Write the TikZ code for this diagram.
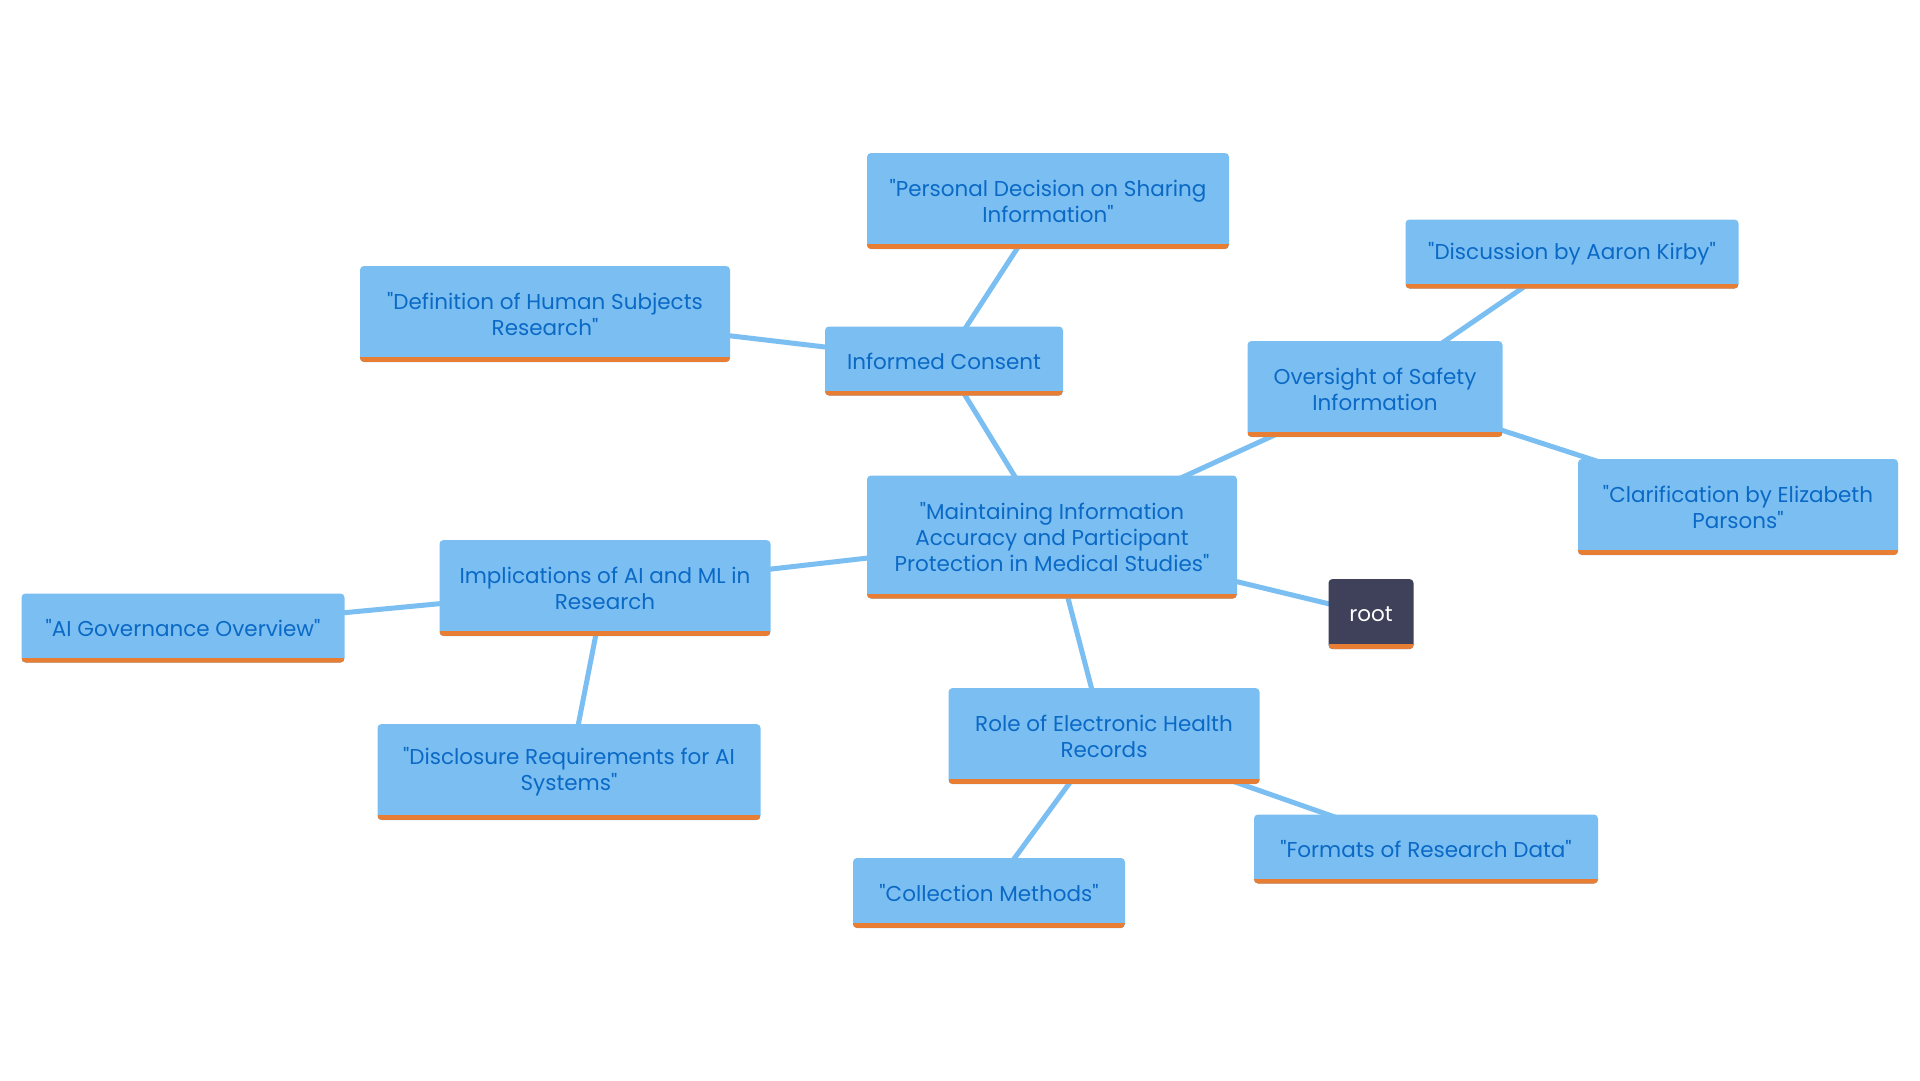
\documentclass[tikz,border=0pt]{standalone}
\usepackage{fontspec}
\setmainfont{Poppins}[Ligatures=TeXOff]
\usepackage{tikz}
\usetikzlibrary{positioning,calc}

\definecolor{boxblue}{HTML}{7BBFF2}
\definecolor{textblue}{HTML}{0B69C6}
\definecolor{barorange}{HTML}{E77E33}
\definecolor{rootgray}{HTML}{3E4159}

\tikzset{
  topic/.style={fill=boxblue, text=textblue, rounded corners=4pt, align=center,
    font=\fontsize{21.5}{26}\selectfont, inner sep=0pt,
    path picture={\fill[barorange, sharp corners]
      ($(path picture bounding box.south west)+(0,-5)$) rectangle (path picture bounding box.south east);}},
  rootbox/.style={topic, fill=rootgray, text=white},
  link/.style={boxblue, line width=5pt}
}

\begin{document}
\begin{tikzpicture}[x=1pt, y=-1pt]
\useasboundingbox[fill=white] (0,0) rectangle (1920,1080);

% connectors first, boxes on top
\coordinate (cC) at (1052,537);
\coordinate (cIC) at (944,361);
\coordinate (cPD) at (1048,201);
\coordinate (cDH) at (545,314);
\coordinate (cOS) at (1375,389);
\coordinate (cAK) at (1572,254);
\coordinate (cEP) at (1738,507);
\coordinate (cAI) at (605,588);
\coordinate (cGO) at (183,628);
\coordinate (cDR) at (569,772);
\coordinate (cEHR) at (1104,736);
\coordinate (cCM) at (989,893);
\coordinate (cFR) at (1426,849);
\coordinate (cR) at (1371,614);

\draw[link] (cC) -- (cIC);
\draw[link] (cIC) -- (cPD);
\draw[link] (cIC) -- (cDH);
\draw[link] (cC) -- (cOS);
\draw[link] (cOS) -- (cAK);
\draw[link] (cOS) -- (cEP);
\draw[link] (cC) -- (cAI);
\draw[link] (cAI) -- (cGO);
\draw[link] (cAI) -- (cDR);
\draw[link] (cC) -- (cEHR);
\draw[link] (cEHR) -- (cCM);
\draw[link] (cEHR) -- (cFR);
\draw[link] (cC) -- (cR);

\node[topic, minimum width=370, minimum height=123] (main) at (cC)
  {"Maintaining Information\\Accuracy and Participant\\Protection in Medical Studies"};
\node[rootbox, minimum width=85, minimum height=70] (root) at (cR) {root};
\node[topic, minimum width=238, minimum height=69] (consent) at (cIC) {Informed Consent};
\node[topic, minimum width=362, minimum height=96] (decision) at (cPD)
  {"Personal Decision on Sharing\\Information"};
\node[topic, minimum width=370, minimum height=96] (definition) at (cDH)
  {"Definition of Human Subjects\\Research"};
\node[topic, minimum width=255, minimum height=96] (oversight) at (cOS)
  {Oversight of Safety\\Information};
\node[topic, minimum width=333, minimum height=69] (kirby) at (cAK) {"Discussion by Aaron Kirby"};
\node[topic, minimum width=320, minimum height=96] (parsons) at (cEP)
  {"Clarification by Elizabeth\\Parsons"};
\node[topic, minimum width=331, minimum height=96] (aiml) at (cAI)
  {Implications of AI and ML in\\Research};
\node[topic, minimum width=323, minimum height=69] (governance) at (cGO) {"AI Governance Overview"};
\node[topic, minimum width=383, minimum height=96] (disclosure) at (cDR)
  {"Disclosure Requirements for AI\\Systems"};
\node[topic, minimum width=311, minimum height=96] (ehr) at (cEHR)
  {Role of Electronic Health\\Records};
\node[topic, minimum width=272, minimum height=70] (collection) at (cCM) {"Collection Methods"};
\node[topic, minimum width=344, minimum height=69] (formats) at (cFR) {"Formats of Research Data"};
\end{tikzpicture}
\end{document}
